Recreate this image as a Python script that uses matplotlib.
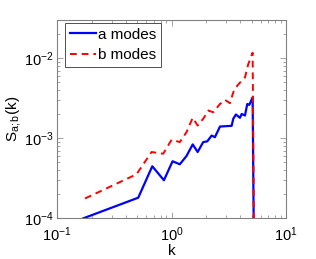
import matplotlib
matplotlib.use("Agg")
import matplotlib.pyplot as plt

plt.rcParams['font.family'] = ['Liberation Sans', 'DejaVu Sans']
plt.rcParams['mathtext.fontset'] = 'custom'
plt.rcParams['mathtext.rm'] = 'Liberation Sans'
plt.rcParams['mathtext.it'] = 'Liberation Sans:italic'

k_a = [0.169, 0.511, 0.678, 0.857, 1.02, 1.18, 1.35, 1.53, 1.69, 1.89, 2.05, 2.24,
       2.39, 2.65, 3.35, 3.46, 3.65, 3.96, 4.10, 4.38, 4.59, 4.78, 5.11, 5.36]
s_a = [1.0e-4, 1.81e-4, 4.47e-4, 2.99e-4, 5.16e-4, 4.73e-4, 6.0e-4, 8.38e-4, 6.73e-4,
       8.96e-4, 9.14e-4, 1.08e-3, 1.03e-3, 1.40e-3, 1.43e-3, 1.75e-3, 1.98e-3, 1.80e-3,
       2.01e-3, 1.92e-3, 2.68e-3, 2.61e-3, 3.25e-3, 1e-6]

k_b = [0.175, 0.494, 0.668, 0.845, 1.0, 1.18, 1.35, 1.53, 1.69, 1.89, 2.10, 2.31,
       2.65, 2.93, 3.24, 3.46, 3.75, 4.10, 4.38, 4.68, 5.11, 5.36]
s_b = [1.77e-4, 3.55e-4, 6.73e-4, 6.41e-4, 9.58e-4, 8.96e-4, 1.19e-3, 1.80e-3, 1.44e-3,
       1.75e-3, 2.22e-3, 2.11e-3, 2.68e-3, 3.01e-3, 2.74e-3, 3.75e-3, 4.53e-3, 5.23e-3,
       5.75e-3, 8.42e-3, 1.17e-2, 1e-6]

labels = ['a modes', 'b modes']

fig = plt.figure(figsize=(3.16, 2.59), dpi=100)
ax = fig.add_axes([0.181, 0.157, 0.724, 0.766])
ax.loglog(k_a, s_a, color='#0000ff', lw=1.6, label=labels[0])
ax.loglog(k_b, s_b, color='#ff0000', lw=1.4, ls=(0, (3.5, 2.5)), label=labels[1])
ax.set_xlim(0.1, 10)
ax.set_ylim(1e-4, 3e-2)
ax.tick_params(which='both', direction='in', top=True, right=True, labelsize=10.5,
               width=0.5, color='#808080', pad=2.5)
ax.tick_params(axis='x', which='both', pad=5)
ax.tick_params(which='major', length=4)
ax.tick_params(which='minor', length=2)
for s in ax.spines.values():
    s.set_linewidth(0.8)
    s.set_color('#808080')
ax.set_xlabel('k', fontsize=11, labelpad=0.2)
ax.set_ylabel(r'S$_{\mathrm{a;b}}$(k)', fontsize=11, labelpad=1)
leg = ax.legend(loc='upper left', fontsize=11, frameon=True, fancybox=False,
                edgecolor='black', bbox_to_anchor=(0.035, 0.985), borderaxespad=0,
                handlelength=1.7, handletextpad=0.15, borderpad=0.3, labelspacing=0.45)
leg.get_frame().set_linewidth(0.6)
fig.savefig('out.png', dpi=100)
